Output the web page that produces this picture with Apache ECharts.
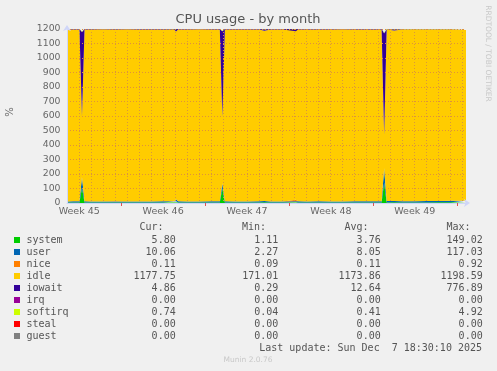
<!DOCTYPE html>
<html>
<head>
<meta charset="utf-8">
<script src="https://cdn.jsdelivr.net/npm/echarts@6/dist/echarts.min.js"></script>
<style>html,body{margin:0;padding:0;background:#F0F0F0;}#c{width:497px;height:371px;}</style>
</head>
<body>
<div id="c"></div>
<script>
// x = days since Sun Nov 2 2025 00:00
const times = [2.48,3.0,3.52,3.73,3.94,4.5,5.5,6.5,7.5,8.5,9.5,10.5,11.42,11.58,11.75,12.5,13.5,14.5,15.23,15.44,15.65,16.5,17.5,18.5,18.94,19.5,20.5,21.42,21.58,21.75,22.5,23.5,24.5,25.5,26.5,27.5,28.73,28.94,29.15,29.78,30.5,31.5,32.5,33.5,34.5,35.77];
const systemVals = [3.4,3.6,3.8,105,3.9,3.5,3.2,3.6,3.3,3.5,3.4,3.7,3.6,12,3.8,3.5,3.3,3.6,3.9,100,3.8,3.4,3.5,3.6,4.5,3.4,3.5,3.8,6.5,3.7,3.4,3.6,3.5,3.3,3.6,3.5,4.0,140,4.2,4.8,3.7,3.9,4.2,4.6,5.0,5.8];
const userVals = [7.2,7.8,8.0,75,8.2,7.5,7.0,7.6,7.4,7.6,7.3,7.9,7.8,14,8.0,7.6,7.2,7.8,8.1,35,7.9,7.5,7.6,7.8,9,7.4,7.6,8.0,16,7.9,7.5,7.8,7.6,7.4,7.7,7.8,8.5,100,8.8,9.5,8.2,8.6,9.0,9.4,9.8,10.06];
const niceVals = [0.1,0.1,0.1,0.1,0.1,0.1,0.1,0.1,0.1,0.1,0.1,0.1,0.1,0.1,0.1,0.1,0.1,0.1,0.1,0.1,0.1,0.1,0.1,0.1,0.1,0.1,0.1,0.1,0.1,0.1,0.1,0.1,0.1,0.1,0.1,0.1,0.1,0.1,0.1,0.1,0.1,0.1,0.1,0.1,0.1,0.11];
const idleVals = [1186.7,1185.9,1185.0,420,1184.6,1186.3,1187.3,1186.1,1186.7,1186.1,1186.6,1185.5,1185.4,1156.7,1185.1,1186.2,1186.9,1185.8,1184.7,460,1185.2,1186.4,1186.2,1185.7,1173.5,1186.5,1186.2,1185.2,1162.4,1185.5,1186.4,1185.8,1186.2,1186.7,1185.9,1185.8,1184.0,230,1183.2,1174.7,1184.8,1184.1,1183.2,1182.3,1181.3,1177.75];
const iowaitVals = [1.8,1.8,2.3,580,2.4,1.8,1.6,1.8,1.7,1.9,1.8,2.0,2.3,16,2.2,1.8,1.7,1.9,2.4,590,2.2,1.8,1.8,2.0,12,1.8,1.8,2.1,14,2.0,1.8,1.9,1.8,1.7,1.9,2.0,2.6,700,2.8,10,2.3,2.4,2.5,2.6,2.7,4.86];
const softirqVals = [0.4,0.4,0.4,2,0.4,0.4,0.4,0.4,0.4,0.4,0.4,0.4,0.4,0.8,0.4,0.4,0.4,0.4,0.4,2,0.4,0.4,0.4,0.4,0.5,0.4,0.4,0.4,0.6,0.4,0.4,0.4,0.4,0.4,0.4,0.4,0.4,4,0.5,0.5,0.5,0.5,0.6,0.6,0.7,0.74];

const weekPos = [3.5,10.5,17.5,24.5,31.5];
const weekLabels = ['Week 45','Week 46','Week 47','Week 48','Week 49'];
const weekStarts = [7,14,21,28,35];

const legendNames = ['system','user','nice','idle','iowait','irq','softirq','steal','guest'];
const legendColors = ['#00CC00','#0066B3','#FF8000','#FFCC00','#330099','#990099','#CCFF00','#FF0000','#808080'];
const curVals = ['5.80','10.06','0.11','1177.75','4.86','0.00','0.74','0.00','0.00'];
const minVals = ['1.11','2.27','0.09','171.01','0.29','0.00','0.04','0.00','0.00'];
const avgVals = ['3.76','8.05','0.11','1173.86','12.64','0.00','0.41','0.00','0.00'];
const maxVals = ['149.02','117.03','0.92','1198.59','776.89','0.00','4.92','0.00','0.00'];

const plotted = [
  ['system', systemVals, '#00CC00'],
  ['user', userVals, '#0066B3'],
  ['nice', niceVals, '#FF8000'],
  ['idle', idleVals, '#FFCC00'],
  ['iowait', iowaitVals, '#330099'],
  ['softirq', softirqVals, '#CCFF00']
];

const chart = echarts.init(document.getElementById('c'), null, {renderer: 'canvas'});
const xmin = 2.48, xmax = 35.77;
const sans = 'DejaVu Sans', mono = 'DejaVu Sans Mono';

// data stored as [value, time] so that the stacked dimension is the y value
const series = plotted.map(([name, vals, color]) => ({
  name, type: 'line', stack: 'cpu', xAxisIndex: 0, yAxisIndex: 0,
  encode: {x: 1, y: 0},
  symbol: 'none', showSymbol: false,
  lineStyle: {width: 0}, areaStyle: {color, opacity: 1},
  itemStyle: {color},
  data: times.map((t, i) => [vals[i], t]),
  z: 2, animation: false
}));

const graphic = [];
graphic.push({type: 'text', style: {text: 'CPU usage - by month', x: 248, y: 19.5, font: '13px "' + sans + '"', fill: '#555', align: 'center', verticalAlign: 'middle', textAlign: 'center', textVerticalAlign: 'middle'}});
graphic.push({type: 'text', x: 10, y: 112, rotation: Math.PI / 2, style: {text: '%', x: 0, y: 0, font: '10px "' + sans + '"', fill: '#666', align: 'center', verticalAlign: 'middle', textAlign: 'center', textVerticalAlign: 'middle'}});
graphic.push({type: 'text', x: 488, y: 53.5, rotation: -Math.PI / 2, style: {text: 'RRDTOOL / TOBI OETIKER', x: 0, y: 0, font: '7.5px "' + sans + '"', fill: '#c8c8c8', align: 'center', verticalAlign: 'middle', textAlign: 'center', textVerticalAlign: 'middle'}});

const headX = [163.5, 266, 368.5, 470.5];
const colX = [175.7, 278.3, 380.7, 482.7];
['Cur:', 'Min:', 'Avg:', 'Max:'].forEach((h, i) => {
  graphic.push({type: 'text', style: {text: h, x: headX[i], y: 227.5, font: '10px "' + mono + '"', fill: '#555', align: 'right', verticalAlign: 'middle', textAlign: 'right', textVerticalAlign: 'middle'}});
});
legendNames.forEach((n, r) => {
  const y = 240 + r * 12;
  graphic.push({type: 'rect', shape: {x: 14, y: y - 3, width: 6, height: 6}, style: {fill: legendColors[r]}});
  graphic.push({type: 'text', style: {text: n, x: 26.5, y, font: '10px "' + mono + '"', fill: '#555', align: 'left', verticalAlign: 'middle', textAlign: 'left', textVerticalAlign: 'middle'}});
  [curVals, minVals, avgVals, maxVals].forEach((arr, c) => {
    graphic.push({type: 'text', style: {text: arr[r], x: colX[c], y, font: '10px "' + mono + '"', fill: '#555', align: 'right', verticalAlign: 'middle', textAlign: 'right', textVerticalAlign: 'middle'}});
  });
});
graphic.push({type: 'text', style: {text: 'Last update: Sun Dec  7 18:30:10 2025', x: 482, y: 348.3, font: '10px "' + mono + '"', fill: '#555', align: 'right', verticalAlign: 'middle', textAlign: 'right', textVerticalAlign: 'middle'}});
graphic.push({type: 'text', style: {text: 'Munin 2.0.76', x: 248, y: 360, font: '7.5px "' + sans + '"', fill: '#c8c8c8', align: 'center', verticalAlign: 'middle', textAlign: 'center', textVerticalAlign: 'middle'}});

chart.setOption({
  backgroundColor: '#F0F0F0',
  animation: false,
  grid: {left: 67, top: 29, width: 399, height: 174, containLabel: false},
  xAxis: [
    {
      type: 'value', min: xmin, max: xmax, interval: 1, z: 5,
      axisLine: {show: true, lineStyle: {color: '#CFD6F8', width: 1}, symbol: ['none', 'arrow'], symbolSize: [6, 6], symbolOffset: [0, 4]},
      axisTick: {show: false}, axisLabel: {show: false},
      splitLine: {show: true, showMinLine: false, showMaxLine: false, lineStyle: {color: '#d8963e', type: [1, 2], width: 1}}
    },
    {
      type: 'value', min: xmin, max: xmax, position: 'bottom', z: 6,
      axisLine: {show: false},
      axisTick: {show: true, customValues: weekStarts, length: 3, lineStyle: {color: '#e05050', width: 1}},
      axisLabel: {show: true, customValues: weekPos, margin: 4, fontFamily: sans, fontSize: 9.5, color: '#666',
        formatter: (v) => { const i = weekPos.findIndex(p => Math.abs(p - v) < 1e-6); return i >= 0 ? weekLabels[i] : ''; }},
      splitLine: {show: false}
    }
  ],
  yAxis: [{
    type: 'value', min: 0, max: 1200, interval: 100, z: 5,
    axisLine: {show: true, lineStyle: {color: '#CFD6F8', width: 1}, symbol: ['none', 'arrow'], symbolSize: [6, 6], symbolOffset: [0, 4]},
    axisTick: {show: false},
    axisLabel: {show: true, margin: 6.5, fontFamily: sans, fontSize: 9.3, color: '#666', formatter: (v) => String(v)},
    splitLine: {show: true, lineStyle: {color: '#e0903a', type: [1, 2], width: 1}}
  }],
  series,
  graphic
});
</script>
</body>
</html>
